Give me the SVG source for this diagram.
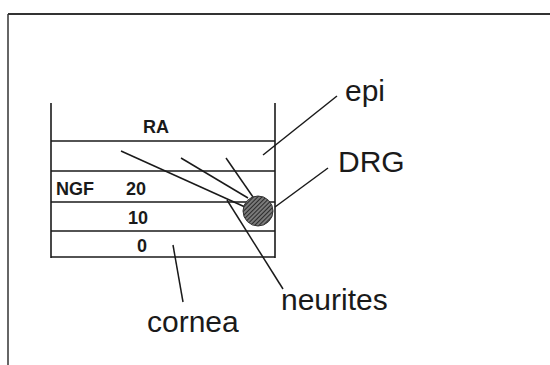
<svg xmlns="http://www.w3.org/2000/svg" width="550" height="365" viewBox="0 0 550 365">
  <style>
    .frame { stroke: #333; fill: none; }
    .layer { stroke: #1a1a1a; stroke-width: 1.6; fill: none; }
    .lead { stroke: #1a1a1a; stroke-width: 1.5; fill: none; }
    .inner { font-family: "Liberation Sans", Arial, sans-serif; font-weight: bold; font-size: 18px; fill: #1a1a1a; }
    .label { font-family: "Liberation Sans", Arial, sans-serif; font-size: 30px; fill: #1a1a1a; }
  </style>
  <defs>
    <pattern id="hatch" width="3" height="3" patternUnits="userSpaceOnUse" patternTransform="rotate(45)">
      <rect width="3" height="3" fill="#7a7a7a"/>
      <line x1="0" y1="0" x2="0" y2="3" stroke="#222" stroke-width="1.8"/>
    </pattern>
  </defs>
  <rect width="550" height="365" fill="#ffffff"/>
  <g id="frame">
    <line class="frame" x1="8" y1="14" x2="550" y2="14" stroke-width="2"/>
    <line class="frame" x1="8" y1="14" x2="8" y2="365" stroke-width="1.5" stroke="#777"/>
  </g>
  <g id="dish">
    <line class="layer" x1="51" y1="103" x2="51" y2="258"/>
    <line class="layer" x1="275" y1="103" x2="275" y2="258"/>
    <line class="layer" x1="51" y1="141" x2="275" y2="141"/>
    <line class="layer" x1="51" y1="171" x2="275" y2="171"/>
    <line class="layer" x1="51" y1="202" x2="275" y2="202"/>
    <line class="layer" x1="51" y1="231" x2="275" y2="231"/>
    <line class="layer" x1="51" y1="257" x2="275" y2="257"/>
  </g>
  <g id="layer-labels">
    <text class="inner" x="156" y="133" text-anchor="middle">RA</text>
    <text class="inner" x="56" y="195">NGF</text>
    <text class="inner" x="126" y="195">20</text>
    <text class="inner" x="128" y="224">10</text>
    <text class="inner" x="137" y="252">0</text>
  </g>
  <g id="connectors">
    <line class="lead" x1="121" y1="151" x2="245" y2="207"/>
    <line class="lead" x1="181" y1="158" x2="248" y2="198"/>
    <line class="lead" x1="226" y1="158" x2="253" y2="197"/>
    <line class="lead" x1="227" y1="200" x2="283" y2="289"/>
    <line class="lead" x1="263" y1="155" x2="337" y2="96"/>
    <line class="lead" x1="275" y1="207" x2="328" y2="168"/>
    <line class="lead" x1="173" y1="245" x2="183" y2="302"/>
  </g>
  <g id="drg">
    <circle cx="258" cy="211" r="15" fill="url(#hatch)" stroke="#333" stroke-width="1"/>
  </g>
  <g id="label-epi"><text class="label" x="345" y="101">epi</text></g>
  <g id="label-drg"><text class="label" x="338" y="172">DRG</text></g>
  <g id="label-neurites"><text class="label" x="281" y="310">neurites</text></g>
  <g id="label-cornea"><text class="label" x="147" y="332">cornea</text></g>
</svg>
